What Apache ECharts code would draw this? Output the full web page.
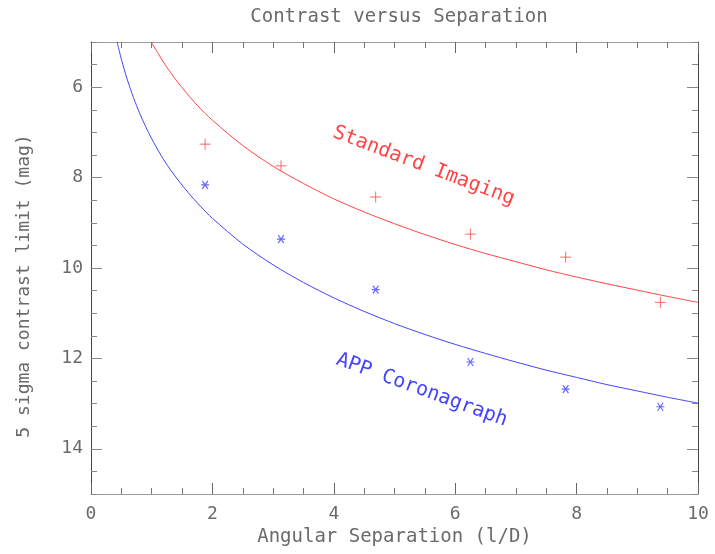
<!DOCTYPE html>
<html><head><meta charset="utf-8">
<script src="https://cdn.jsdelivr.net/npm/echarts@6/dist/echarts.min.js"></script>
<style>html,body{margin:0;padding:0;background:#fff}#c{width:715px;height:554px}</style>
</head><body><div id="c"></div>
<script>
// ---- data ----
const xTickLabels = [0, 2, 4, 6, 8, 10];
const yTickLabels = [6, 8, 10, 12, 14];
const separations = [1.88, 3.13, 4.69, 6.25, 7.82, 9.38];
const standardPoints = [7.26, 7.74, 8.43, 9.25, 9.76, 10.76];
const appPoints = [8.16, 9.36, 10.48, 12.08, 12.68, 13.07];
const standardCurveX = [0.99, 1.1, 1.2, 1.35, 1.5, 1.75, 2, 2.5, 3, 3.5, 4, 4.5, 5, 5.5, 6, 6.5, 7, 7.5, 8, 8.5, 9, 9.5, 10];
const standardCurveY = [5.0, 5.24, 5.46, 5.75, 6.01, 6.40, 6.73, 7.29, 7.75, 8.13, 8.47, 8.76, 9.02, 9.26, 9.48, 9.68, 9.86, 10.04, 10.20, 10.35, 10.49, 10.63, 10.76];
const appCurveX = [0.43, 0.47, 0.5, 0.55, 0.6, 0.7, 0.8, 0.9, 1.0, 1.15, 1.3, 1.45, 1.6, 1.8, 2, 2.5, 3, 3.5, 4, 4.5, 5, 5.5, 6, 6.5, 7, 7.5, 8, 8.5, 9, 9.5, 10];
const appCurveY = [5.0, 5.22, 5.38, 5.62, 5.84, 6.23, 6.57, 6.87, 7.14, 7.50, 7.81, 8.08, 8.33, 8.63, 8.90, 9.47, 9.93, 10.32, 10.66, 10.96, 11.23, 11.47, 11.69, 11.89, 12.08, 12.26, 12.42, 12.58, 12.72, 12.86, 12.99];

const RED = '#ff4444', BLUE = '#4444ff', TXT = '#6a6a6a';
const FONT = '"DejaVu Sans Mono", monospace';

function pairs(xs, ys) { return xs.map((x, i) => [x, ys[i]]); }

const plusPath = 'path://M5,0L5,10M0,5L10,5';
const starPath = 'path://M0,5L10,5M1.5,1.5L8.5,8.5M1.5,8.5L8.5,1.5';

function xAx(pos, showLabel) {
  return {
    type: 'value', min: 0, max: 10, interval: 2, position: pos,
    axisLine: { show: true, onZero: false, lineStyle: { color: '#9a9a9a', width: 1 } },
    axisTick: { show: true, inside: true, length: 11, lineStyle: { color: '#666', width: 1 } },
    minorTick: { show: true, splitNumber: 4, length: 6, lineStyle: { color: '#777', width: 1 } },
    splitLine: { show: false },
    axisLabel: { show: showLabel, margin: 11, fontSize: 18, color: TXT, fontFamily: FONT },
    name: showLabel ? 'Angular Separation (l/D)' : '',
    nameLocation: 'middle', nameGap: 33,
    nameTextStyle: { fontSize: 19, color: TXT, fontFamily: FONT }
  };
}
function yAx(pos, showLabel, major) {
  const a = {
    type: 'value', min: 5, max: 15, interval: 0.5, inverse: true, position: pos,
    axisLine: { show: !major, onZero: false, lineStyle: { color: '#444', width: 1 } },
    axisTick: { show: true, inside: true, length: major ? 11 : 6, lineStyle: { color: '#888', width: 1 } },
    splitLine: { show: false },
    axisLabel: { show: showLabel, margin: 8, fontSize: 18, color: TXT, fontFamily: FONT,
      customValues: yTickLabels }
  };
  if (major) a.axisTick.customValues = yTickLabels;
  return a;
}

const chart = echarts.init(document.getElementById('c'), null, { renderer: 'canvas' });
const option = {
  animation: false,
  backgroundColor: '#fff',
  title: {
    text: 'Contrast versus Separation', left: 394, top: 3, textAlign: 'center',
    textStyle: { fontSize: 19, fontWeight: 'normal', color: TXT, fontFamily: FONT }
  },
  grid: { left: 91, right: 17, top: 42, bottom: 60, containLabel: false },
  xAxis: [xAx('bottom', true), xAx('top', false)],
  yAxis: [yAx('left', true, false), yAx('left', false, true), yAx('right', false, false), yAx('right', false, true)],
  series: [
    { type: 'line', name: 'Standard fit', data: pairs(standardCurveX, standardCurveY), showSymbol: false,
      smooth: 0.3, lineStyle: { color: RED, width: 1 }, clip: true, z: 2 },
    { type: 'line', name: 'APP fit', data: pairs(appCurveX, appCurveY), showSymbol: false,
      smooth: 0.3, lineStyle: { color: BLUE, width: 1 }, clip: true, z: 2 },
    { type: 'scatter', name: 'Standard Imaging', data: pairs(separations, standardPoints),
      symbol: plusPath, symbolSize: 11,
      itemStyle: { color: 'none', borderColor: RED, borderWidth: 1 }, z: 3 },
    { type: 'scatter', name: 'APP Coronagraph', data: pairs(separations, appPoints),
      symbol: starPath, symbolSize: 8,
      itemStyle: { color: 'none', borderColor: BLUE, borderWidth: 1.2 }, z: 3 }
  ]
};
chart.setOption(option);

const pStd = chart.convertToPixel({ xAxisIndex: 0, yAxisIndex: 0 }, [5.48, 7.74]);
const pApp = chart.convertToPixel({ xAxisIndex: 0, yAxisIndex: 0 }, [5.45, 12.70]);
chart.setOption({
  graphic: [
    { type: 'text', x: pStd[0], y: pStd[1], rotation: -0.36,
      style: { text: 'Standard Imaging', fill: RED, fontSize: 20, fontFamily: FONT, align: 'center', verticalAlign: 'middle' } },
    { type: 'text', x: pApp[0], y: pApp[1], rotation: -0.35,
      style: { text: 'APP Coronagraph', fill: BLUE, fontSize: 20, fontFamily: FONT, align: 'center', verticalAlign: 'middle' } },
    { type: 'text', x: 24, y: 286, rotation: Math.PI / 2,
      style: { text: '5 sigma contrast limit (mag)', fill: TXT, fontSize: 18, fontFamily: FONT, align: 'center', verticalAlign: 'middle' } }
  ]
});
</script></body></html>
